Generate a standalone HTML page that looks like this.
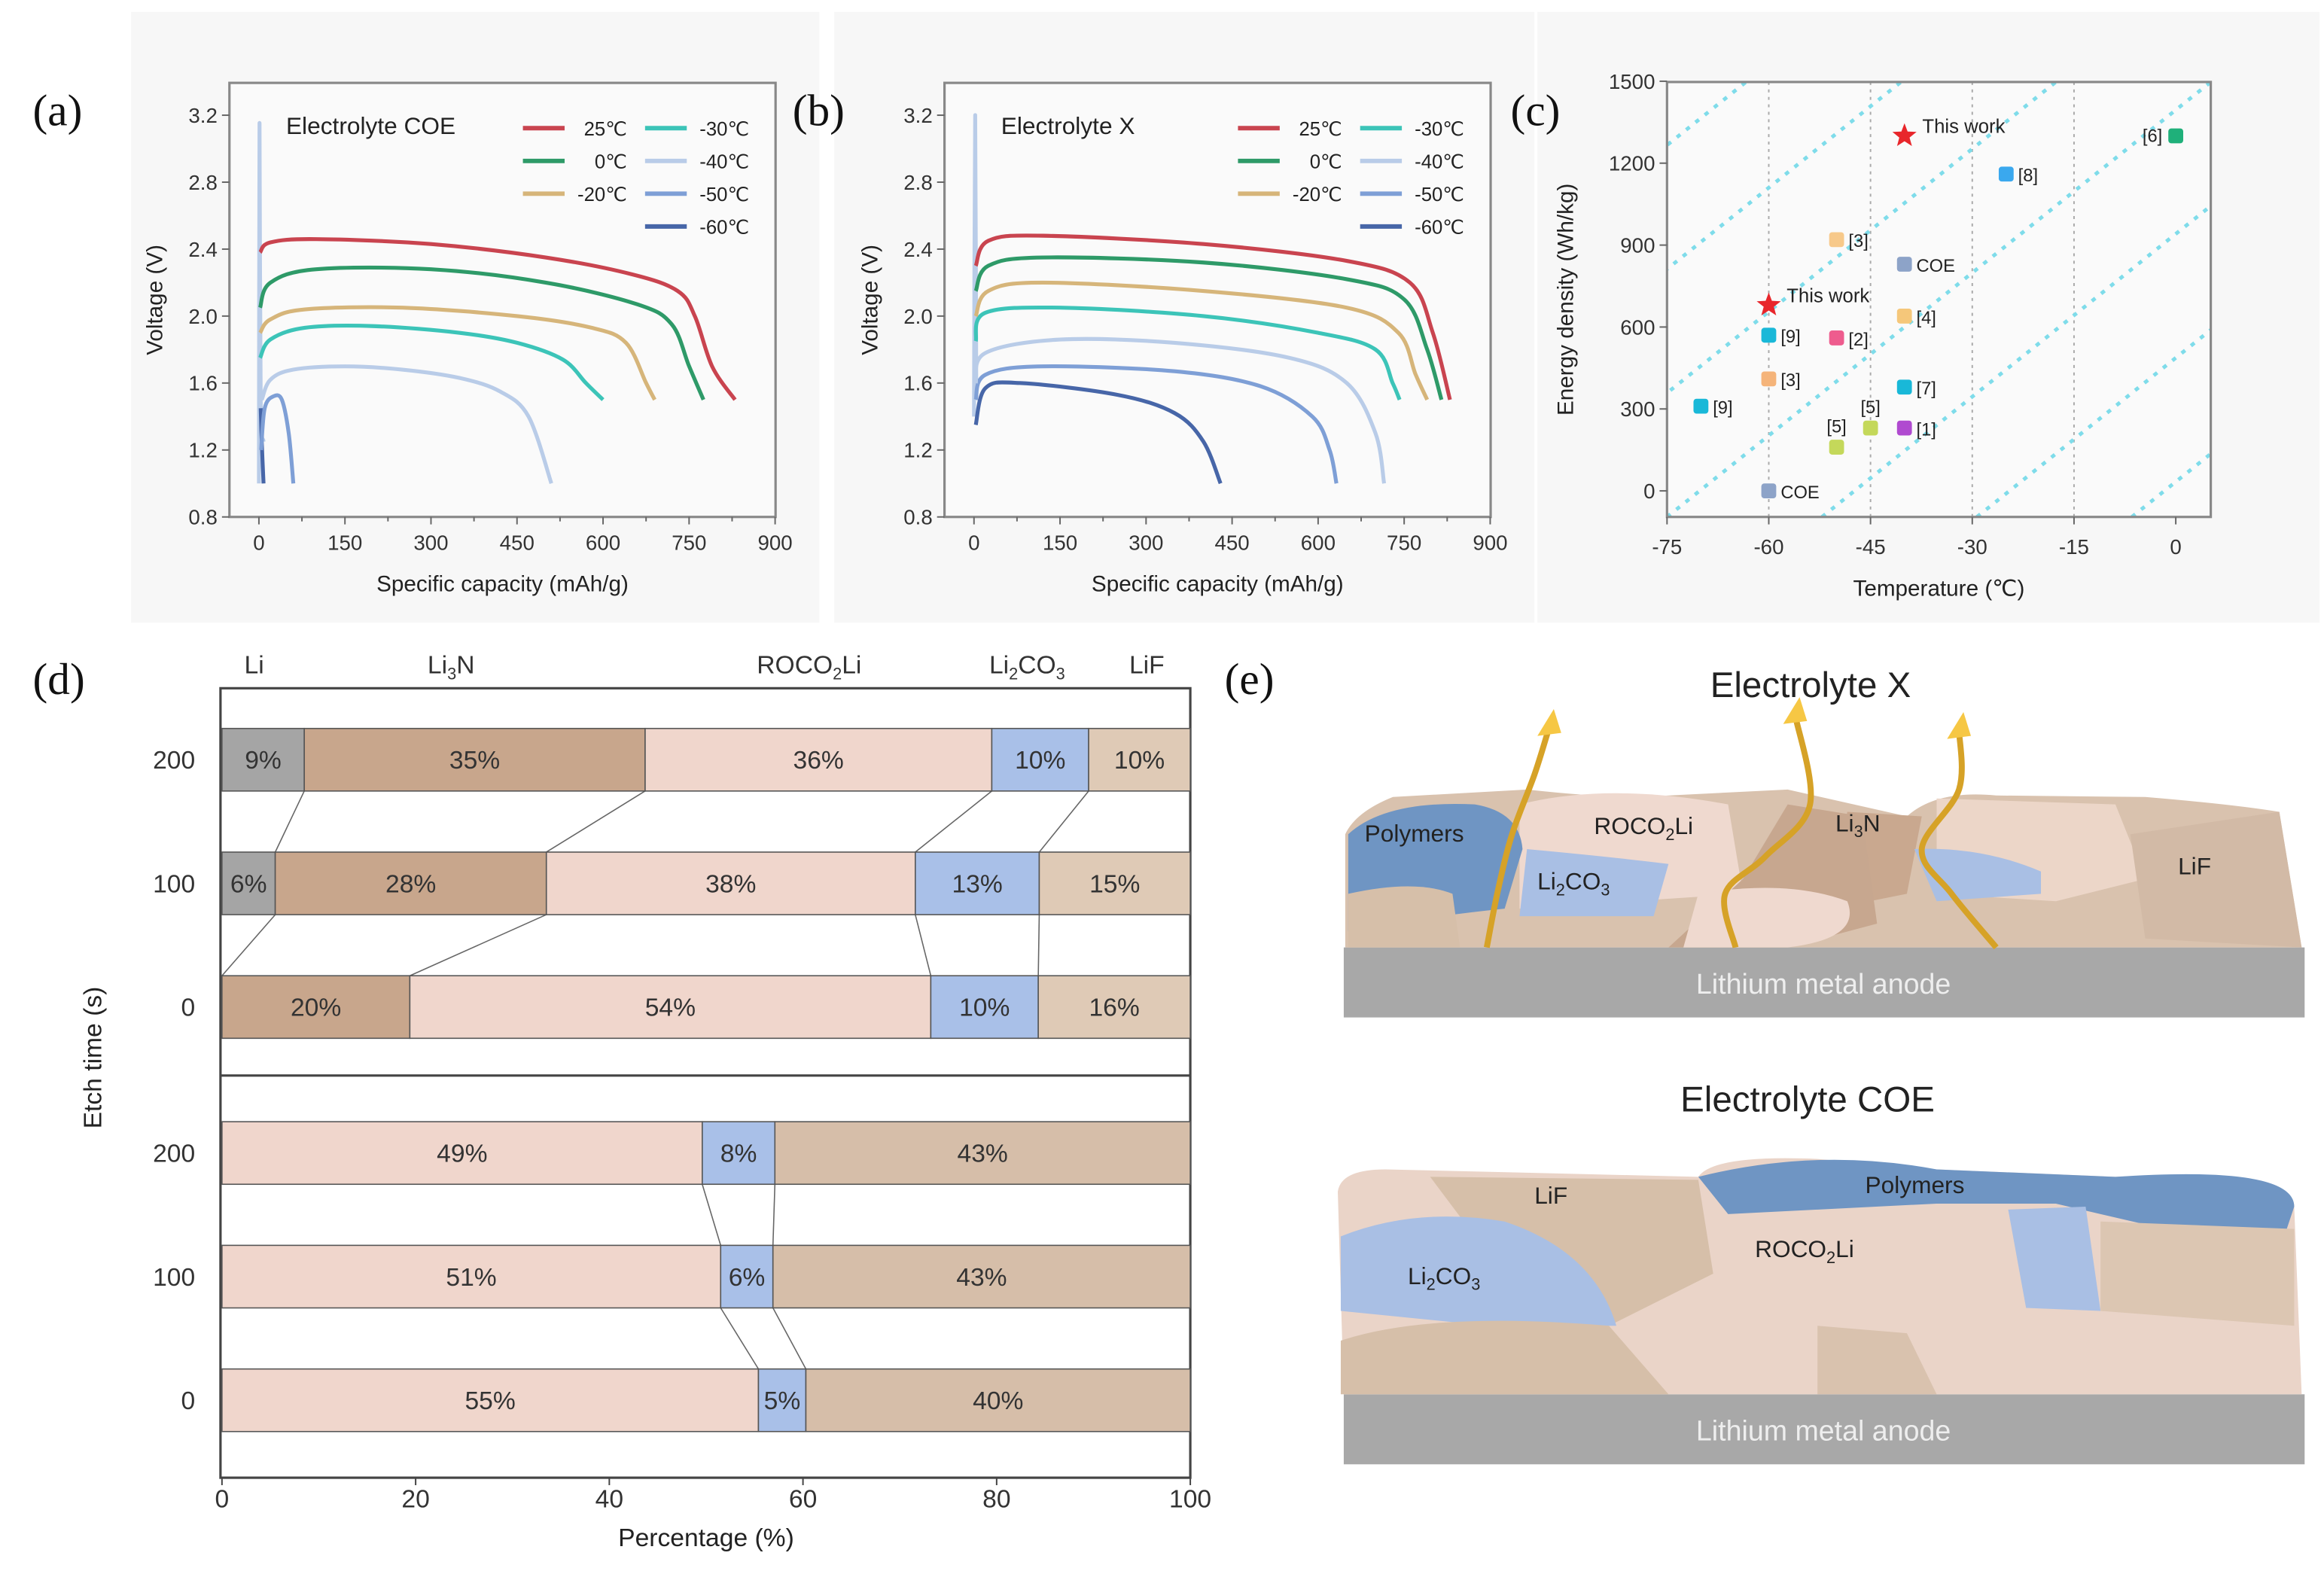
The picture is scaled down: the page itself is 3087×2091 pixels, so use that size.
<!DOCTYPE html>
<html><head><meta charset="utf-8"><style>
html,body{margin:0;padding:0;background:#fff}
svg{display:block}
text{font-family:"Liberation Sans",sans-serif;fill:#222}
.pl{font-family:"Liberation Serif",serif;font-size:30px;fill:#111}
.tk{font-size:14px;fill:#333}
.al{font-size:15px;fill:#222}
.bl{font-size:17px;fill:#333}
</style></head><body>
<svg id="s" width="3087" height="2091" viewBox="0 0 1560 1056.6" xmlns="http://www.w3.org/2000/svg">
<rect x="0" y="0" width="1560" height="1057" fill="#fff"/>
<rect x="88" y="8" width="462" height="410" fill="#f7f7f7"/>
<rect x="560" y="8" width="470" height="410" fill="#f7f7f7"/>
<rect x="1032" y="8" width="525" height="410" fill="#f7f7f7"/>
<g id="g"></g>
<text class="pl" x="22" y="84">(a)</text>
<text class="pl" x="532" y="84">(b)</text>
<text class="pl" x="1014" y="84">(c)</text>
<text class="pl" x="22" y="466">(d)</text>
<text class="pl" x="822" y="466">(e)</text>
</svg>
<script>
var g=document.getElementById('g'),h='';
function P(pts){ // catmull-rom
 var d='M'+pts[0][0].toFixed(1)+','+pts[0][1].toFixed(1);
 for(var i=0;i<pts.length-1;i++){var p0=pts[i-1]||pts[i],p1=pts[i],p2=pts[i+1],p3=pts[i+2]||p2;
 d+=' C'+(p1[0]+(p2[0]-p0[0])/6).toFixed(1)+','+(p1[1]+(p2[1]-p0[1])/6).toFixed(1)+' '+(p2[0]-(p3[0]-p1[0])/6).toFixed(1)+','+(p2[1]-(p3[1]-p1[1])/6).toFixed(1)+' '+p2[0].toFixed(1)+','+p2[1].toFixed(1);}
 return d;}
var cols={r:'#c9444f',g:'#2e9a68',t:'#d6b57a',c:'#3cc4b8',l:'#b9cce8',b:'#7e9fd6',d:'#4766a8'};
function vpanel(L,R,x0,title,curves,leg){
 var T=55.6,B=347;
 function X(v){return x0+v*(346.5/900)} function Y(v){return 347-(v-0.8)*(269.7/2.4)}
 h+='<rect x="'+L+'" y="'+T+'" width="'+(R-L)+'" height="'+(B-T)+'" fill="#fafafa" stroke="#888" stroke-width="1.6"/>';
 for(var i=0;i<=6;i++){var xx=X(i*150);h+='<line x1="'+xx+'" y1="'+B+'" x2="'+xx+'" y2="'+(B+5)+'" stroke="#666"/><text class="tk" text-anchor="middle" x="'+xx+'" y="'+(B+22)+'">'+(i*150)+'</text>';
  if(i<6)h+='<line x1="'+X(i*150+75)+'" y1="'+B+'" x2="'+X(i*150+75)+'" y2="'+(B+3)+'" stroke="#666"/>';}
 for(var j=0;j<7;j++){var v=0.8+j*0.4,yy=Y(v);h+='<line x1="'+(L-5)+'" y1="'+yy+'" x2="'+L+'" y2="'+yy+'" stroke="#666"/><text class="tk" text-anchor="end" x="'+(L-8)+'" y="'+(yy+5)+'">'+v.toFixed(1)+'</text>';}
 h+='<text class="al" text-anchor="middle" x="'+((L+R)/2)+'" y="'+(B+50)+'">Specific capacity (mAh/g)</text>';
 h+='<text class="al" text-anchor="middle" transform="translate('+(L-45)+','+((T+B)/2)+') rotate(-90)">Voltage (V)</text>';
 h+='<text x="'+(L+38)+'" y="90" style="font-size:16px">'+title+'</text>';
 var lx=L+197,labs=[['r','25℃',0,0],['g','0℃',0,1],['t','-20℃',0,2],['c','-30℃',1,0],['l','-40℃',1,1],['b','-50℃',1,2],['d','-60℃',1,3]];
 labs.forEach(function(a){var x=lx+a[2]*82,y=86+a[3]*22;h+='<line x1="'+x+'" y1="'+y+'" x2="'+(x+28)+'" y2="'+y+'" stroke="'+cols[a[0]]+'" stroke-width="3"/><text x="'+(x+70)+'" y="'+(y+5)+'" text-anchor="end" style="font-size:13px">'+a[1]+'</text>';});
 curves.forEach(function(c){var pts=c[1].map(function(p){return [X(p[0]),Y(p[1])]});h+='<path d="'+P(pts)+'" fill="none" stroke="'+cols[c[0]]+'" stroke-width="2.6"/>';});
}
vpanel(154,520.6,173.8,'Electrolyte COE',[
['l',[[0,1.0],[1,3.15],[3,1.5],[8,1.25]]],
['d',[[3,1.45],[5,1.25],[8,1.0]]],
['b',[[4,1.2],[10,1.45],[25,1.52],[40,1.5],[52,1.3],[60,1.0]]],
['l',[[5,1.5],[20,1.62],[60,1.68],[150,1.7],[250,1.68],[350,1.63],[420,1.55],[470,1.4],[510,1.0]]],
['c',[[2,1.75],[20,1.86],[80,1.93],[200,1.94],[350,1.9],[450,1.84],[530,1.74],[570,1.6],[600,1.5]]],
['t',[[2,1.9],[20,1.98],[80,2.04],[250,2.05],[450,2.0],[580,1.93],[640,1.84],[675,1.6],[690,1.5]]],
['g',[[2,2.05],[20,2.2],[100,2.28],[300,2.28],[500,2.2],[660,2.07],[720,1.95],[750,1.7],[775,1.5]]],
['r',[[2,2.38],[20,2.44],[100,2.46],[300,2.43],[500,2.35],[650,2.25],[730,2.15],[760,2.0],[790,1.7],[830,1.5]]]
]);
vpanel(634,1000.6,653.8,'Electrolyte X',[
['l',[[0,1.4],[2,3.2],[4,1.6]]],
['d',[[3,1.35],[20,1.57],[80,1.6],[250,1.53],[350,1.42],[400,1.25],[430,1.0]]],
['b',[[3,1.5],[20,1.65],[120,1.7],[350,1.67],[500,1.58],[590,1.4],[620,1.2],[632,1.0]]],
['l',[[3,1.6],[20,1.78],[150,1.86],[350,1.84],[550,1.75],[650,1.6],[700,1.3],[715,1.0]]],
['c',[[3,1.85],[20,2.02],[150,2.05],[400,2.0],[600,1.9],[700,1.8],[730,1.6],[742,1.5]]],
['t',[[3,2.0],[25,2.15],[120,2.2],[400,2.15],[650,2.05],[740,1.9],[770,1.65],[790,1.5]]],
['g',[[3,2.15],[25,2.3],[120,2.35],[400,2.32],[650,2.22],[750,2.1],[790,1.8],[815,1.5]]],
['r',[[3,2.3],[25,2.45],[120,2.48],[400,2.43],[650,2.33],[760,2.2],[800,1.9],[830,1.5]]]
]);
// panel c
(function(){var L=1119,R=1484,T=55,B=347;function X(v){return 1119+(v+75)*(68.3/15)}function Y(v){return 329.5-v*(55/300)}
 h+='<rect x="'+L+'" y="'+T+'" width="'+(R-L)+'" height="'+(B-T)+'" fill="#fafafa"/>';
 [-60,-45,-30,-15].forEach(function(v){h+='<line x1="'+X(v)+'" y1="'+T+'" x2="'+X(v)+'" y2="'+B+'" stroke="#aaa" stroke-dasharray="2,3"/>';});
 h+='<clipPath id="cc"><rect x="'+L+'" y="'+T+'" width="'+(R-L)+'" height="'+(B-T)+'"/></clipPath><g clip-path="url(#cc)">';
 for(var k=-4;k<4;k++){var x0=1119+k*104;h+='<line x1="'+x0+'" y1="347" x2="'+(x0+400)+'" y2="'+(347-320)+'" stroke="#7fdcea" stroke-width="2.5" stroke-dasharray="3,5"/>';}
 h+='</g><rect x="'+L+'" y="'+T+'" width="'+(R-L)+'" height="'+(B-T)+'" fill="none" stroke="#888" stroke-width="1.6"/>';
 [-75,-60,-45,-30,-15,0].forEach(function(v){h+='<line x1="'+X(v)+'" y1="'+B+'" x2="'+X(v)+'" y2="'+(B+5)+'" stroke="#666"/><text class="tk" text-anchor="middle" x="'+X(v)+'" y="'+(B+25)+'">'+v+'</text>';});
 for(var v=0;v<=1500;v+=300){h+='<line x1="'+(L-5)+'" y1="'+Y(v)+'" x2="'+L+'" y2="'+Y(v)+'" stroke="#666"/><text class="tk" text-anchor="end" x="'+(L-8)+'" y="'+(Y(v)+5)+'">'+v+'</text>';}
 h+='<text class="al" text-anchor="middle" x="'+((L+R)/2)+'" y="400">Temperature (℃)</text>';
 h+='<text class="al" text-anchor="middle" transform="translate('+(L-63)+',201) rotate(-90)">Energy density (Wh/kg)</text>';
 var pts=[[0,1300,'#1fb07a','[6]',-1],[-25,1160,'#3aa8ee','[8]',1],[-50,920,'#f7c98a','[3]',1],[-40,830,'#8da3c8','COE',1],[-40,640,'#f5c77a','[4]',1],[-60,570,'#19b8d8','[9]',1],[-50,560,'#ee5c8e','[2]',1],[-60,410,'#f5b47a','[3]',1],[-40,380,'#19b8d8','[7]',1],[-70,310,'#19b8d8','[9]',1],[-45,230,'#c4d85a','[5]',0],[-50,160,'#c4d85a','[5]',0],[-40,230,'#b04ad0','[1]',1],[-60,0,'#8da3c8','COE',1]];
 pts.forEach(function(p){var x=X(p[0]),y=Y(p[1]);h+='<rect x="'+(x-5)+'" y="'+(y-5)+'" width="10" height="10" rx="2" fill="'+p[2]+'"/>';
  if(p[4]==1)h+='<text x="'+(x+8)+'" y="'+(y+5)+'" style="font-size:12px">'+p[3]+'</text>';
  else if(p[4]==-1)h+='<text x="'+(x-9)+'" y="'+(y+4)+'" text-anchor="end" style="font-size:12px">'+p[3]+'</text>';
  else h+='<text x="'+x+'" y="'+(y-10)+'" text-anchor="middle" style="font-size:12px">'+p[3]+'</text>';});
 function star(cx,cy){var s='';for(var i=0;i<10;i++){var r=i%2?3.6:8.5,a=-Math.PI/2+i*Math.PI/5;s+=(cx+r*Math.cos(a)).toFixed(1)+','+(cy+r*Math.sin(a)).toFixed(1)+' ';}return '<polygon points="'+s+'" fill="#e8262b"/>';}
 h+=star(X(-40),Y(1300))+'<text x="'+(X(-40)+12)+'" y="'+(Y(1300)-2)+'" style="font-size:13px">This work</text>';
 h+=star(X(-60),Y(680))+'<text x="'+(X(-60)+12)+'" y="'+(Y(680)-2)+'" style="font-size:13px">This work</text>';
})();
// panel d
(function(){var L=148,R=799,T=462,B=992;function X(p){return 149+p*6.5}
 var C={li:'#a5a5a5',n:'#c8a68c',ro:'#f0d6cc',co:'#a9c0e8',f:'#dfcab6',f2:'#d6bea9'};
 var rows=[[489,[[0,8.5,'li','9%'],[8.5,43.7,'n','35%'],[43.7,79.5,'ro','36%'],[79.5,89.5,'co','10%'],[89.5,100,'f','10%']]],
 [572,[[0,5.5,'li','6%'],[5.5,33.5,'n','28%'],[33.5,71.6,'ro','38%'],[71.6,84.4,'co','13%'],[84.4,100,'f','15%']]],
 [655,[[0,19.4,'n','20%'],[19.4,73.2,'ro','54%'],[73.2,84.3,'co','10%'],[84.3,100,'f','16%']]],
 [753,[[0,49.6,'ro','49%'],[49.6,57.1,'co','8%'],[57.1,100,'f2','43%']]],
 [836,[[0,51.5,'ro','51%'],[51.5,56.9,'co','6%'],[56.9,100,'f2','43%']]],
 [919,[[0,55.4,'ro','55%'],[55.4,60.3,'co','5%'],[60.3,100,'f2','40%']]]];
 h+='<rect x="'+L+'" y="'+T+'" width="'+(R-L)+'" height="'+(B-T)+'" fill="#fff" stroke="#444" stroke-width="1.6"/><line x1="'+L+'" y1="722" x2="'+R+'" y2="722" stroke="#444" stroke-width="1.6"/>';
 function links(a,b){for(var i=1;i<a[1].length;i++){var j=i-(a[1].length-b[1].length);if(j<1)continue;h+='<line x1="'+X(a[1][i][0])+'" y1="'+(a[0]+42)+'" x2="'+X(b[1][j][0])+'" y2="'+b[0]+'" stroke="#666" stroke-width="0.8"/>';}}
 links(rows[0],rows[1]);h+='<line x1="'+X(5.5)+'" y1="614" x2="'+X(0)+'" y2="655" stroke="#666" stroke-width="0.8"/>';
 for(var i=2;i<4;i++){} links(rows[1],rows[2]);
 links(rows[3],rows[4]);links(rows[4],rows[5]);
 rows.forEach(function(r){r[1].forEach(function(s){h+='<rect x="'+X(s[0])+'" y="'+r[0]+'" width="'+(X(s[1])-X(s[0]))+'" height="42" fill="'+C[s[2]]+'" stroke="#555" stroke-width="0.8"/><text class="bl" text-anchor="middle" x="'+((X(s[0])+X(s[1]))/2)+'" y="'+(r[0]+27)+'">'+s[3]+'</text>';});});
 var yl=['200','100','0','200','100','0'];rows.forEach(function(r,i){h+='<text class="bl" text-anchor="end" x="131" y="'+(r[0]+27)+'">'+yl[i]+'</text>';});
 for(var p=0;p<=100;p+=20){h+='<line x1="'+X(p)+'" y1="'+B+'" x2="'+X(p)+'" y2="'+(B+5)+'" stroke="#444"/><text class="bl" text-anchor="middle" x="'+X(p)+'" y="'+(B+20)+'">'+p+'</text>';}
 h+='<text class="al" style="font-size:17px" text-anchor="middle" x="474" y="1038">Percentage (%)</text>';
 h+='<text class="al" style="font-size:17px" text-anchor="middle" transform="translate(68,710) rotate(-90)">Etch time (s)</text>';
 h+='<text class="bl" x="164" y="452">Li</text><text class="bl" x="287" y="452">Li<tspan font-size="11" dy="4">3</tspan><tspan dy="-4">N</tspan></text>';
 h+='<text class="bl" x="508" y="452">ROCO<tspan font-size="11" dy="4">2</tspan><tspan dy="-4">Li</tspan></text>';
 h+='<text class="bl" x="664" y="452">Li<tspan font-size="11" dy="4">2</tspan><tspan dy="-4">CO</tspan><tspan font-size="11" dy="4">3</tspan></text><text class="bl" x="758" y="452">LiF</text>';
})();
// panel e
h+='<text style="font-size:24px" x="1148" y="468">Electrolyte X</text><text style="font-size:24px" x="1128" y="746">Electrolyte COE</text>';
h+='<rect x="902" y="636" width="645" height="47" fill="#a8a8a8"/><text x="1224" y="667" text-anchor="middle" style="font-size:19px;fill:#eee">Lithium metal anode</text>';
h+='<rect x="902" y="936" width="645" height="47" fill="#a8a8a8"/><text x="1224" y="967" text-anchor="middle" style="font-size:19px;fill:#eee">Lithium metal anode</text>';
// top layer
h+='<path d="M903,636 L903,560 Q910,545 935,535 L1025,530 Q1070,535 1100,535 L1200,530 L1280,548 Q1300,530 1340,534 L1440,535 Q1500,540 1530,545 L1545,636 Z" fill="#d9c2ae"/>';
h+='<path d="M1020,540 Q1080,525 1160,540 L1170,600 L1020,610 Z" fill="#efd9cf"/>';
h+='<path d="M1300,536 L1420,540 L1440,590 L1380,605 L1300,600 Z" fill="#ecd6c8"/>';
h+='<path d="M1240,545 L1290,548 L1280,600 L1230,610 Z" fill="#c9a88f"/>';
h+='<path d="M1200,540 L1250,548 L1260,620 L1200,636 L1120,636 L1170,590 Z" fill="#c7a78f"/>';
h+='<path d="M905,560 Q930,537 990,540 Q1020,545 1022,570 L1010,610 Q960,615 905,625 Z" fill="#6f95c3"/>';
h+='<path d="M1025,570 Q1080,575 1120,580 L1110,615 L1020,615 Z" fill="#a9bfe4"/>';
h+='<path d="M1285,570 Q1330,568 1370,585 L1370,600 L1300,605 Z" fill="#a9bfe4"/>';
h+='<path d="M905,600 Q950,590 975,600 L980,636 L905,636 Z" fill="#d6bfa9"/>';
h+='<path d="M1140,600 Q1200,590 1240,605 Q1250,630 1200,636 L1130,636 Z" fill="#efd9cf"/>';
h+='<path d="M1430,560 L1530,545 L1545,636 L1440,630 Z" fill="#d2baa6"/>';
h+='<text x="916" y="565" style="font-size:16px">Polymers</text><text x="1070" y="560" style="font-size:16px">ROCO<tspan font-size="11" dy="4">2</tspan><tspan dy="-4">Li</tspan></text>';
h+='<text x="1032" y="597" style="font-size:16px">Li<tspan font-size="11" dy="4">2</tspan><tspan dy="-4">CO</tspan><tspan font-size="11" dy="4">3</tspan></text><text x="1232" y="558" style="font-size:16px">Li<tspan font-size="11" dy="4">3</tspan><tspan dy="-4">N</tspan></text><text x="1462" y="587" style="font-size:16px">LiF</text>';
var arr=[[[998,636],[1005,600],[1015,560],[1030,520],[1040,488]],[[1165,636],[1158,600],[1185,575],[1215,540],[1205,480]],[[1340,636],[1310,600],[1290,570],[1315,530],[1315,490]]];
arr.forEach(function(a){h+='<path d="'+P(a)+'" fill="none" stroke="#d6a227" stroke-width="4"/>';var e=a[a.length-1];h+='<polygon points="'+(e[0]-8)+','+(e[1]+6)+' '+(e[0]+8)+','+(e[1]+4)+' '+(e[0]+3)+','+(e[1]-12)+'" fill="#f6c744"/>';});
// bottom layer
h+='<path d="M902,936 L898,800 Q900,785 930,785 L1140,790 Q1150,775 1220,778 L1300,785 L1420,790 Q1540,785 1540,810 L1545,936 Z" fill="#ead4c8"/>';
h+='<path d="M960,790 L1140,792 L1150,855 L1080,890 L1020,870 Z" fill="#d6bfa9"/>';
h+='<path d="M1140,790 Q1220,770 1300,785 L1420,790 Q1540,782 1540,810 L1535,825 L1440,822 L1380,808 L1300,808 L1160,815 Z" fill="#6f95c3"/>';
h+='<path d="M1348,812 L1400,810 L1410,880 L1360,878 Z" fill="#a9bfe4"/>';
h+='<path d="M1410,820 L1540,825 L1540,890 L1410,880 Z" fill="#dcc6b2"/>';
h+='<path d="M900,830 Q950,810 1010,820 Q1070,840 1085,890 L1000,890 Q950,885 900,880 Z" fill="#a9bfe4"/>';
h+='<path d="M900,900 Q960,880 1080,890 L1120,936 L900,936 Z" fill="#d6bfa9"/>';
h+='<path d="M1220,890 L1280,895 L1300,936 L1220,936 Z" fill="#d9c2ae"/>';
h+='<text x="1030" y="808" style="font-size:16px">LiF</text><text x="1252" y="801" style="font-size:16px">Polymers</text>';
h+='<text x="1178" y="844" style="font-size:16px">ROCO<tspan font-size="11" dy="4">2</tspan><tspan dy="-4">Li</tspan></text><text x="945" y="862" style="font-size:16px">Li<tspan font-size="11" dy="4">2</tspan><tspan dy="-4">CO</tspan><tspan font-size="11" dy="4">3</tspan></text>';
g.innerHTML=h;
</script>
</body></html>
